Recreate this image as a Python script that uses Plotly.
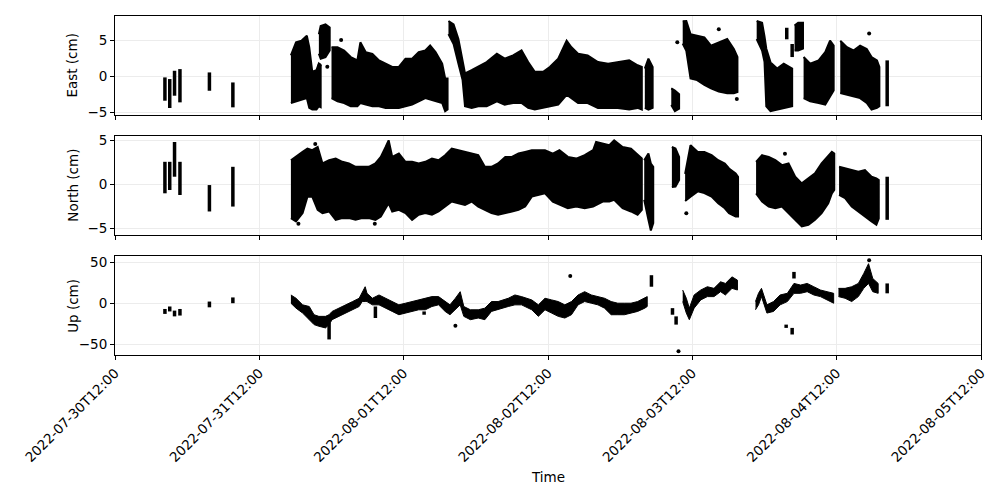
import pandas as pd
import plotly.graph_objects as go
from plotly.subplots import make_subplots

T0 = pd.Timestamp("2022-07-30 12:00")  # hours below are counted from this time

# ---------------- East (cm): envelope of the dense point cloud (hours, low, high); None = break
east_t = [29.25, 30.1, 31.0, 31.9, 32.3, 32.8, 33.5, 33.9, 34.2, None,
          33.9, 34.2, 35.0, 35.7, None,
          36.0, 37.0, 38.1, 39.2, 40.3, 40.8, 41.7, 42.8, 43.9, 45.0, 46.1, 47.2, 48.3, 49.4, 50.5, 51.6, 52.4,
          53.3, 54.4, 54.9, 55.3, None,
          55.45, 56.3, 57.1, 57.8, 58.2, 59.3, 60.4, 61.8, 63.5, 64.8, 66.2, 67.6, 68.7, 69.8, 71.2, 72.3, 73.7,
          75.1, 75.9, 77.0, 78.6, 80.3, 82.0, 83.6, 85.5, 86.9, 87.6, None,
          88.1, 88.7, 89.4, None,
          92.5, 93.1, 93.8, None,
          94.4, 95.0, 95.7, 96.8, 98.0, 99.1, 100.4, 101.8, 102.9, 103.5, None,
          106.7, 107.6, 108.0, 108.3, 109.0, 110.1, 111.2, 112.6, None,
          113.0, 113.6, 114.4, None,
          114.5, 115.6, 117.0, 118.1, 118.9, 119.5, None,
          120.6, 121.7, 122.8, 123.9, 125.0, 125.8, 126.7, 127.1]
east_lo = [-3.73, -3.5, -3.27, -3.05, -4.41, -4.64, -4.64, -4.18, -4.3, None,
           3.1, 2.41, 2.64, 3.55, None,
           -3.05, -3.5, -3.73, -4.18, -4.18, -3.73, -3.95, -4.18, -4.18, -4.41, -4.41, -4.41, -4.18, -3.95, -3.5,
           -3.05, -3.27, -3.5, -3.73, -4.86, -4.64, None,
           5.82, 4.45, 1.73, -0.55, -4.18, -4.41, -4.18, -4.18, -3.5, -3.95, -3.73, -3.73, -4.41, -4.64, -4.41,
           -4.18, -3.95, -2.59, -3.05, -3.73, -3.73, -4.41, -4.41, -4.41, -4.64, -4.41, -4.64, None,
           -4.41, -4.64, -4.41, None,
           -4.0, -4.86, -4.5, None,
           4.5, 3.5, -0.32, -0.55, -1.23, -1.68, -2.14, -2.36, -2.36, -2.2, None,
           5.14, 3.55, 2.0, -4.18, -4.86, -4.64, -4.41, -4.18, None,
           3.55, 3.55, 3.8, None,
           -3.05, -3.5, -3.73, -3.95, -2.82, -2.0, None,
           -2.36, -2.59, -2.82, -3.05, -3.73, -4.64, -4.41, -4.18]
east_hi = [2.86, 4.68, 4.9, 5.6, 4.0, 0.6, 0.82, 1.73, 1.5, None,
           5.8, 6.95, 7.18, 6.73, None,
           4.0, 4.0, 3.55, 2.64, 2.18, 4.68, 3.32, 3.09, 2.18, 1.73, 1.27, 1.27, 2.41, 2.41, 3.32, 3.55, 4.23,
           3.32, 1.73, -0.32, -0.32, None,
           7.64, 7.18, 5.14, 1.73, 0.36, 0.82, 1.27, 1.95, 3.09, 2.41, 2.86, 3.55, 1.95, 0.59, 0.59, 1.27, 2.41,
           4.91, 4.0, 3.09, 2.86, 1.95, 1.73, 1.95, 2.18, 1.5, 1.27, None,
           1.05, 2.41, 1.27, None,
           -1.7, -2.0, -2.5, None,
           7.6, 7.64, 5.82, 5.59, 5.36, 4.23, 4.68, 5.14, 3.77, 2.64, None,
           7.64, 7.4, 5.5, 3.8, 1.9, 1.05, 1.73, 1.05, None,
           7.0, 7.4, 7.4, None,
           2.64, 1.73, 2.18, 3.32, 4.91, 4.23, None,
           4.91, 4.0, 3.55, 4.23, 3.77, 2.64, 2.18, 1.27]
east_strip_t = [8.3, 9.1, 9.9, 10.8, 15.7, 19.6, 111.7, 112.6, 128.4]
east_strip_lo = [-3.41, -4.42, -2.72, -3.64, -2.03, -4.33, 5.1, 2.64, -4.18]
east_strip_hi = [-0.18, -0.41, 0.74, 0.97, 0.51, -0.88, 6.7, 4.45, 2.18]
east_out_t = [93.5, 100.4, 103.4, 125.4, 37.6, 34.0, 35.3]
east_out_v = [4.68, 6.5, -3.18, 5.9, 5.0, 1.5, 1.3]

# ---------------- North (cm)
north_t = [29.25, 30.1, 31.2, 32.0, 32.8, 33.7, 34.5, 35.6, 36.7, 37.8, 38.9, 40.0, 41.1, 42.2, 43.3, 44.2, 45.0,
           45.5, 46.1, 47.2, 48.3, 49.4, 50.5, 51.6, 52.7, 53.8, 54.9, 56.0, 57.1, 58.2, 59.3, 60.4, 61.5, 62.6,
           63.7, 64.9, 66.0, 67.1, 68.2, 69.3, 70.4, 71.5, 72.8, 73.9, 75.3, 76.7, 78.1, 79.5, 80.0, 81.1, 82.2,
           83.0, 84.4, 85.8, 86.9, 87.6, None,
           88.0, 88.7, 89.1, 89.5, None,
           92.6, 93.2, 93.8, None,
           94.8, 95.7, 96.9, 98.0, 99.2, 100.3, 101.4, 102.1, 103.2, 103.6, None,
           106.6, 107.6, 108.7, 109.8, 110.9, 112.0, 113.1, 114.2, 115.3, 116.4, 117.5, 118.6, 119.2, 119.6, None,
           120.4, 121.4, 122.5, 123.6, 124.7, 125.8, 126.6, 127.0]
north_lo = [-3.85, -4.23, -3.28, -1.40, -1.40, -2.91, -3.28, -3.09, -4.04, -3.85, -3.85, -4.04, -3.85, -3.85, -4.04,
            -3.66, -2.72, -2.15, -3.09, -2.91, -3.28, -4.04, -3.47, -3.28, -3.47, -3.09, -2.53, -1.96, -2.15, -2.34,
            -1.96, -2.53, -2.91, -3.28, -3.47, -3.28, -3.09, -2.91, -2.53, -1.40, -1.21, -1.02, -1.96, -2.34, -2.72,
            -2.53, -2.72, -2.53, -2.34, -1.96, -1.96, -1.77, -2.72, -3.09, -3.47, -2.91, None,
            -1.77, -4.04, -5.25, -4.42, None,
            -0.3, -0.26, 0.49, None,
            -1.9, -1.40, -0.8, -1.0, -1.40, -2.15, -2.72, -3.28, -3.66, -3.66, None,
            -1.02, -1.96, -2.53, -2.72, -2.53, -3.28, -4.04, -4.79, -4.60, -4.04, -3.28, -2.15, -1.02, -0.64, None,
            -1.21, -1.58, -2.53, -3.09, -3.66, -4.23, -4.60, -3.9]
north_hi = [2.75, 3.13, 3.70, 4.08, 3.89, 4.26, 2.38, 2.75, 2.94, 2.57, 2.38, 2.0, 2.0, 2.0, 2.38, 3.13, 4.26, 5.02,
            3.13, 3.51, 2.57, 2.57, 2.38, 2.57, 2.94, 2.75, 3.32, 4.08, 3.89, 3.70, 3.51, 3.32, 2.0, 2.0, 2.38, 3.13,
            3.13, 3.51, 3.70, 3.89, 3.89, 3.89, 3.51, 3.89, 3.13, 2.94, 3.32, 3.89, 4.83, 4.64, 4.45, 5.02, 4.26,
            4.08, 3.32, 2.94, None,
            2.75, 3.51, 2.38, 2.0, None,
            4.26, 4.08, 3.13, None,
            1.2, 4.45, 3.70, 3.70, 3.32, 2.75, 2.38, 1.81, 1.25, 0.87, None,
            2.57, 3.32, 3.13, 2.75, 2.19, 2.38, 0.87, 0.11, 0.68, 1.25, 2.38, 3.32, 3.70, 3.51, None,
            2.0, 1.81, 1.62, 1.43, 1.62, 0.87, 0.68, 0.5]
north_strip_t = [8.3, 9.1, 9.9, 10.8, 15.7, 19.6, 128.4]
north_strip_lo = [-1.02, -0.64, 0.87, -1.21, -3.09, -2.53, -4.04]
north_strip_hi = [2.57, 2.57, 4.83, 2.57, -0.08, 2.0, 0.87]
north_out_t = [95.0, 111.4, 43.2, 30.5, 33.3]
north_out_v = [-3.3, 3.5, -4.5, -4.5, 4.6]

# ---------------- Up (cm)
up_t = [29.25, 30.1, 31.2, 32.3, 33.1, 33.9, 35.0, 35.6, 36.1, 37.3, 38.4, 39.5, 40.6, 41.1, 41.6, 41.9, 42.8, 43.9,
        45.0, 46.1, 47.2, 48.3, 49.4, 50.5, 51.6, 52.7, 53.8, 54.9, 55.7, 56.6, 57.4, 58.0, 59.1, 60.4, 61.5, 62.6,
        63.7, 65.4, 66.5, 67.6, 69.3, 70.4, 71.5, 72.6, 73.7, 74.8, 75.9, 77.0, 78.1, 79.2, 80.3, 81.4, 82.5,
        83.6, 84.7, 85.8, 86.9, 88.1, 88.5, None,
        94.4, 95.0, 95.5, 96.3, 97.4, 98.5, 99.6, 100.7, 101.5, 102.6, 103.5, None,
        106.5, 107.0, 107.5, 108.4, 109.5, 110.6, 111.8, 112.9, 114.0, 115.1, 116.2, 117.3, 118.4, 119.5, None,
        120.3, 121.4, 122.5, 123.6, 124.5, 125.3, 126.0, 126.9]
up_lo = [0, -6, -12, -20, -26, -28, -30, -26, -20, -16, -12, -8, -4, 2, 2, 2, -2, -2,
         -6, -10, -14, -12, -10, -8, -8, -4, -2, -10, -14, -8, -2, -16, -20, -18, -20, -10,
         -8, -4, -2, -2, -8, -16, -8, -12, -16, -18, -14, -2, 2, 0, -2, -6, -14,
         -14, -14, -12, -10, -6, -4, None,
         2, -12, -20, -6, 4, 8, 8, 14, 10, 18, 16, None,
         -8, -2, 8, -12, -10, -2, 2, 12, 12, 14, 10, 8, 4, 0, None,
         8, 6, 2, 8, 18, 24, 14, 12]
up_hi = [10, 6, -2, -4, -14, -16, -16, -14, -10, -6, -2, 2, 6, 14, 20, 12, 6, 10,
         6, 2, -2, 0, 2, 4, 6, 8, 8, 2, -2, 6, 14, -4, -8, -8, -6, 2,
         2, 6, 10, 8, 4, -2, 6, 4, 2, -2, 2, 10, 14, 10, 8, 6, 2,
         0, 0, 0, 2, 6, 8, None,
         16, 6, -6, 10, 16, 20, 18, 26, 24, 32, 28, None,
         2, 12, 18, -2, 2, 10, 12, 24, 22, 24, 20, 16, 14, 12, None,
         18, 18, 20, 24, 36, 48, 30, 24]
up_strip_t = [8.3, 9.1, 9.9, 10.8, 15.7, 19.6, 35.6, 43.3, 51.4, 89.2, 92.7, 93.3, 111.6, 112.6, 112.9, 128.4]
up_strip_lo = [-13, -10, -16, -15, -5, 0, -44, -18, -14, 20, -14, -26, -30, -38, 30, 12]
up_strip_hi = [-7, -4, -9, -7, 2, 7, -24, -4, -10, 34, -6, -16, -26, -30, 38, 24]
up_out_t = [56.6, 75.7, 93.7, 125.4]
up_out_v = [-27.4, 33.0, -58.5, 52.0]

# ---------------- axes
x_tick_hours = [0, 24, 48, 72, 96, 120, 144]
x_tick_text = ["2022-07-30T12:00", "2022-07-31T12:00", "2022-08-01T12:00", "2022-08-02T12:00",
               "2022-08-03T12:00", "2022-08-04T12:00", "2022-08-05T12:00"]
panel_titles = ["East (cm)", "North (cm)", "Up (cm)"]
y_ranges = [[-5.39, 8.33], [-5.77, 5.51], [-62.9, 57.3]]
y_tickvals = [[-5, 0, 5], [-5, 0, 5], [-50, 0, 50]]
y_ticktext = [["\u22125", "0", "5"], ["\u22125", "0", "5"], ["\u221250", "0", "50"]]
outline_widths = [2, 2, 1]


def to_time(h):
    return None if h is None else T0 + pd.Timedelta(hours=h)


def polygons(t, lo, hi):
    xs, ys, seg = [], [], []
    for a, b, c in list(zip(t, lo, hi)) + [(None, None, None)]:
        if a is None:
            if seg:
                xs += [to_time(s[0]) for s in seg] + [to_time(s[0]) for s in reversed(seg)] + [None]
                ys += [s[2] for s in seg] + [s[1] for s in reversed(seg)] + [None]
            seg = []
        else:
            seg.append((a, b, c))
    return xs, ys


def strips(t, lo, hi):
    xs, ys = [], []
    for a, b, c in zip(t, lo, hi):
        xs += [to_time(a), to_time(a), None]
        ys += [b, c, None]
    return xs, ys


fig = make_subplots(rows=3, cols=1, shared_xaxes=True, vertical_spacing=0.062)

panels = [
    (east_t, east_lo, east_hi, east_strip_t, east_strip_lo, east_strip_hi, east_out_t, east_out_v),
    (north_t, north_lo, north_hi, north_strip_t, north_strip_lo, north_strip_hi, north_out_t, north_out_v),
    (up_t, up_lo, up_hi, up_strip_t, up_strip_lo, up_strip_hi, up_out_t, up_out_v),
]

for i, (t, lo, hi, st, slo, shi, ot, ov) in enumerate(panels, start=1):
    px, py = polygons(t, lo, hi)
    fig.add_trace(go.Scatter(x=px, y=py, mode="lines", fill="toself", fillcolor="black",
                             line=dict(color="black", width=outline_widths[i - 1]),
                             showlegend=False, hoverinfo="skip"),
                  row=i, col=1)
    sx, sy = strips(st, slo, shi)
    fig.add_trace(go.Scatter(x=sx, y=sy, mode="lines", line=dict(color="black", width=3.5),
                             showlegend=False, hoverinfo="skip"), row=i, col=1)
    fig.add_trace(go.Scatter(x=[to_time(h) for h in ot], y=ov, mode="markers",
                             marker=dict(color="black", size=4), showlegend=False), row=i, col=1)

font = dict(family="DejaVu Sans", size=13.5, color="black")
for i in range(1, 4):
    fig.update_xaxes(row=i, col=1, type="date",
                     range=[to_time(x_tick_hours[0]), to_time(x_tick_hours[-1])],
                     tickvals=[to_time(h) for h in x_tick_hours], ticktext=x_tick_text,
                     showticklabels=(i == 3), tickangle=-45, tickfont=font,
                     showgrid=True, gridcolor="#ececec", gridwidth=1,
                     showline=True, mirror=True, linecolor="black", linewidth=1,
                     ticks="outside", ticklen=4, tickcolor="black", tickwidth=1, zeroline=False)
    fig.update_yaxes(row=i, col=1, range=y_ranges[i - 1], tickvals=y_tickvals[i - 1],
                     ticktext=y_ticktext[i - 1], tickfont=font,
                     showgrid=True, gridcolor="#ececec", gridwidth=1,
                     showline=True, mirror=True, linecolor="black", linewidth=1,
                     ticks="outside", ticklen=4, tickcolor="black", tickwidth=1, zeroline=False)

annotations = []
panel_centers = [1 - 0.2912 / 2, 0.5, 0.2912 / 2]
for title, yc in zip(panel_titles, panel_centers):
    annotations.append(dict(text=title, xref="paper", yref="paper", x=-0.0494, y=yc,
                            textangle=-90, showarrow=False, font=font,
                            xanchor="center", yanchor="middle"))
annotations.append(dict(text="Time", xref="paper", yref="paper", x=0.5, y=-0.359,
                        showarrow=False, font=font, xanchor="center", yanchor="middle"))

fig.update_layout(width=1000, height=500, margin=dict(l=115, r=15, t=15, b=145),
                  plot_bgcolor="white", paper_bgcolor="white", annotations=annotations,
                  font=font, showlegend=False)

fig.write_html("out.html")
